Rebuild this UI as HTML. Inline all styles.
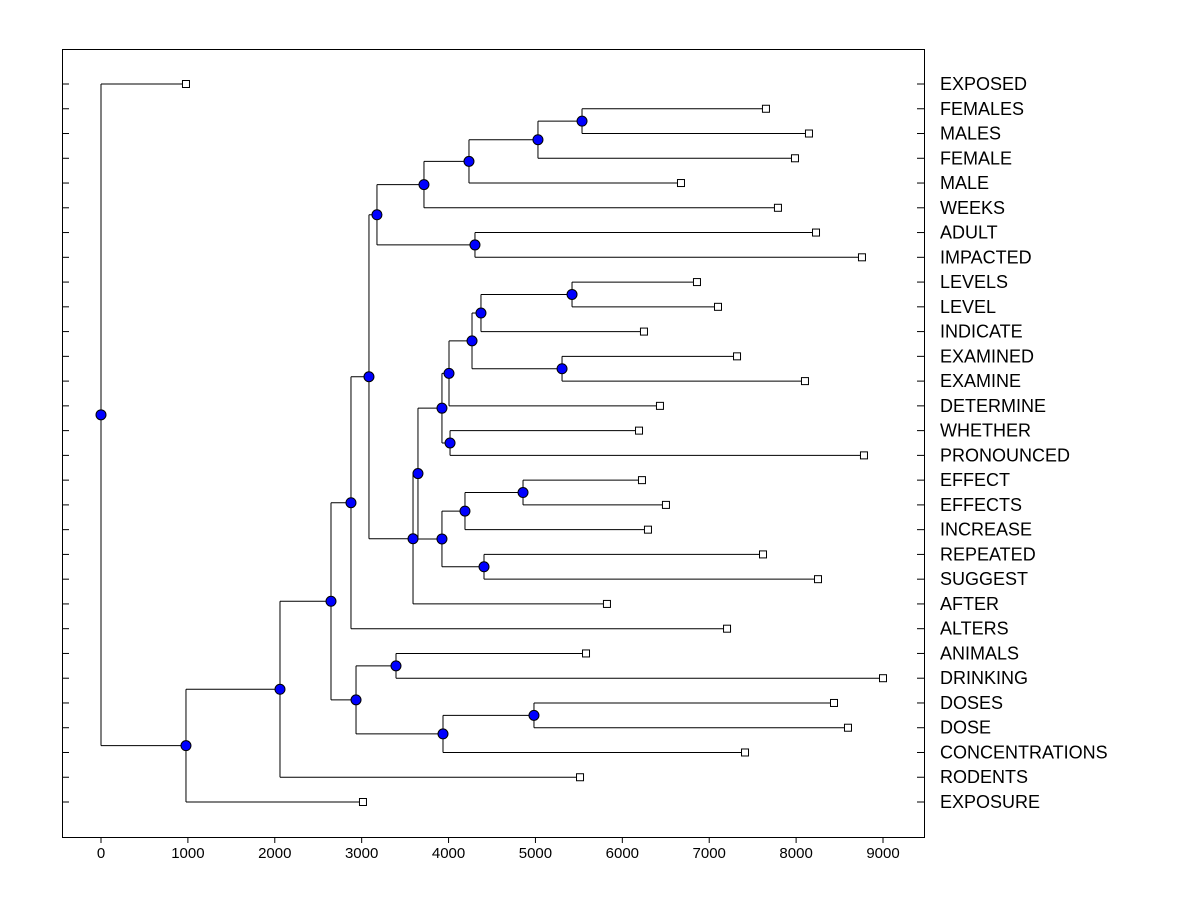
<!DOCTYPE html>
<html><head><meta charset="utf-8"><style>
html,body{margin:0;padding:0;background:#fff;}
svg{display:block;font-family:"Liberation Sans",Arial,sans-serif;}
</style></head><body>
<svg id="chart" width="1200" height="900" xmlns="http://www.w3.org/2000/svg">
<rect x="62.5" y="49.5" width="862" height="788" fill="#fff" stroke="#000" stroke-width="1"/>
<g id="g"></g>
</svg>
<script>
const leafNames=["EXPOSED","FEMALES","MALES","FEMALE","MALE","WEEKS","ADULT","IMPACTED","LEVELS","LEVEL","INDICATE","EXAMINED","EXAMINE","DETERMINE","WHETHER","PRONOUNCED","EFFECT","EFFECTS","INCREASE","REPEATED","SUGGEST","AFTER","ALTERS","ANIMALS","DRINKING","DOSES","DOSE","CONCENTRATIONS","RODENTS","EXPOSURE"];
const leafValues=[978,7653,8148,7987,6675,7791,8229,8758,6859,7101,6249,7320,8102,6433,6192,8781,6226,6502,6295,7619,8252,5823,7205,5582,9000,8436,8597,7412,5513,3015];
const nodeDefs=[
["P",5536,"L1","L2"],["O",5029,"P","L3"],["N",4235,"O","L4"],["L",3717,"N","L5"],
["M",4304,"L6","L7"],["J",3176,"L","M"],
["Y",5421,"L8","L9"],["W",4373,"Y","L10"],["X",5306,"L11","L12"],["V",4270,"W","X"],
["T",4005,"V","L13"],["U",4017,"L14","L15"],["R",3924,"T","U"],
["BB",4857,"L16","L17"],["Z",4189,"BB","L18"],["AA",4408,"L19","L20"],["S",3924,"Z","AA"],
["Q",3648,"R","S"],["K",3591,"Q","L21"],["I",3084,"J","K"],["D",2877,"I","L22"],
["F",3395,"L23","L24"],["H",4983,"L25","L26"],["G",3936,"H","L27"],["E",2935,"F","G"],
["C",2647,"D","E"],["B",2060,"C","L28"],["A",978,"B","L29"],["ROOT",0,"L0","A"]
];
const xTicks=[0,1000,2000,3000,4000,5000,6000,7000,8000,9000];
const X=v=>101+v*(782/9000);
const Yr=i=>84+i*(718/29);
const g=document.getElementById('g');
const NS="http://www.w3.org/2000/svg";
function mk(t,a,p){const e=document.createElementNS(NS,t);for(const k in a)e.setAttribute(k,a[k]);(p||g).appendChild(e);return e;}
const pos={};
leafNames.forEach((n,i)=>{pos["L"+i]={x:X(leafValues[i]),y:Yr(i)};});
const lines=mk('g',{});
nodeDefs.forEach(([n,h,a,b])=>{
  const x=X(h),pa=pos[a],pb=pos[b];
  pos[n]={x:x,y:(pa.y+pb.y)/2};
  const v=mk('line',{x1:x,y1:pa.y,x2:x,y2:pb.y,stroke:'#000','stroke-width':1},lines);
  
  
  [pa,pb].forEach(p=>{const l=mk('line',{x1:x,y1:p.y,x2:p.x,y2:p.y,stroke:'#000','stroke-width':1},lines);
    
    });
});
leafNames.forEach((n,i)=>{
  const y=Yr(i);
  const t1=mk('line',{x1:62,y1:y,x2:69,y2:y,stroke:'#000'});
  
  
  const t2=mk('line',{x1:917,y1:y,x2:924,y2:y,stroke:'#000'});
  
  
  const tx=mk('text',{x:940,y:y+6,'font-size':18,fill:'#000'});tx.textContent=n;
  
  
});
xTicks.forEach(v=>{
  const x=X(v);
  const t=mk('line',{x1:x,y1:837,x2:x,y2:843,stroke:'#000'});
  
  
  const tx=mk('text',{x:x,y:858,'font-size':15,'text-anchor':'middle',fill:'#000'});tx.textContent=v;
  
  
});
leafNames.forEach((n,i)=>{
  const p=pos["L"+i];
  const r=mk('rect',{x:p.x-3.5,y:p.y-3.5,width:7,height:7,fill:'#fff',stroke:'#000'});
  
  
});
nodeDefs.forEach(([n])=>{
  const p=pos[n];
  const c=mk('circle',{cx:p.x,cy:p.y,r:5,fill:'#0000ff',stroke:'#000','stroke-width':1});
  
  
});
</script>
</body></html>
